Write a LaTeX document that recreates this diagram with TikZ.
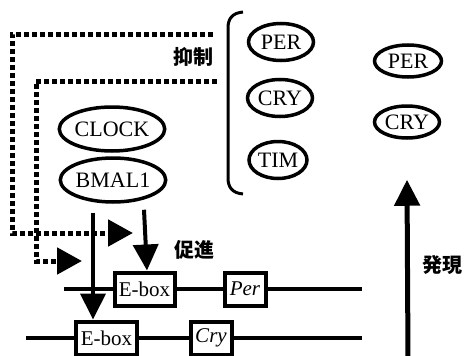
\documentclass[tikz,border=0pt]{standalone}
\usepackage{fontspec}
\setmainfont{Liberation Serif}
\newfontfamily\jpfont{Noto Sans CJK JP}
\usetikzlibrary{arrows.meta,shapes.geometric}

\tikzset{
  prot/.style={ellipse,draw,line width=3.5pt,inner sep=0pt,font=\fontsize{22}{24}\selectfont},
  gene/.style={rectangle,draw,line width=4pt,inner sep=2pt,minimum height=33pt,font=\fontsize{21}{24}\selectfont},
  dna/.style={line width=4pt},
  act/.style={line width=4pt,-{Triangle[length=26pt,width=25pt]}},
  inhib/.style={line width=5pt,dash pattern=on 5pt off 3pt,-{Triangle[length=25pt,width=26pt]}},
  jp/.style={font=\fontsize{20}{24}\jpfont\bfseries},
}

\begin{document}
\begin{tikzpicture}[x=1pt,y=-1pt]
  \useasboundingbox (0,0) rectangle (469,356);
  % CLOCK/BMAL1 dimer
  \node[prot,minimum width=97pt,minimum height=44pt] (clock) at (112,129) {CLOCK};
  \node[prot,minimum width=98pt,minimum height=44pt] (bmal) at (113,180) {BMAL1};
  % repressor complex
  \node[prot,minimum width=65pt,minimum height=37pt] (per1) at (281,42) {PER};
  \node[prot,minimum width=65pt,minimum height=37pt] (cry1) at (280,98) {CRY};
  \node[prot,minimum width=58pt,minimum height=37pt] (tim1) at (278,160) {TIM};
  \draw[line width=3pt] (243,12) .. controls (232,13) and (228,19) .. (228,28)
    -- (228,178) .. controls (228,187) and (232,193) .. (243,194);
  % newly made proteins
  \node[prot,minimum width=67pt,minimum height=32pt] (per2) at (408,61) {PER};
  \node[prot,minimum width=65pt,minimum height=32pt] (cry2) at (407,122) {CRY};
  % genes
  \node[gene,minimum width=60pt] (ebox1) at (144.5,289) {E-box};
  \node[gene,minimum width=41pt] (pergene) at (245,289) {\textit{Per}};
  \node[gene,minimum width=61pt] (ebox2) at (106.5,338) {E-box};
  \node[gene,minimum width=41pt] (crygene) at (211,338) {\textit{Cry}};
  \coordinate (dna1l) at (64,289);
  \coordinate (dna1r) at (362,289);
  \coordinate (dna2l) at (26,338);
  \coordinate (dna2r) at (362,338);
  \draw[dna] (dna1l) -- (ebox1) -- (pergene) -- (dna1r);
  \draw[dna] (dna2l) -- (ebox2) -- (crygene) -- (dna2r);
  % activation
  \draw[act] ([shift={(-20,9)}]bmal.south) -- ([xshift=-13.5pt]ebox2.north);
  \draw[act] ([shift={(31,6)}]bmal.south) -- ([xshift=2.5pt]ebox1.north);
  \node[jp] (actlabel) at (194,250) {促進};
  % feedback inhibition
  \coordinate (rep1) at (213,34);
  \coordinate (rep2) at (217,81);
  \coordinate (loop1) at (12,233);
  \coordinate (loop2) at (36,261);
  \coordinate (tip1) at (133,233);
  \coordinate (tip2) at (82,261);
  \draw[inhib] (rep1) -| (loop1) -- (tip1);
  \draw[inhib] (rep2) -| (loop2) -- (tip2);
  \node[jp] (inhlabel) at (193,57) {抑制};
  % expression
  \coordinate (exprbase) at (408,358);
  \draw[act,line width=5pt] (exprbase) -- ([yshift=-40pt]cry2.south);
  \node[jp] (exprlabel) at (442,265) {発現};
\end{tikzpicture}
\end{document}
